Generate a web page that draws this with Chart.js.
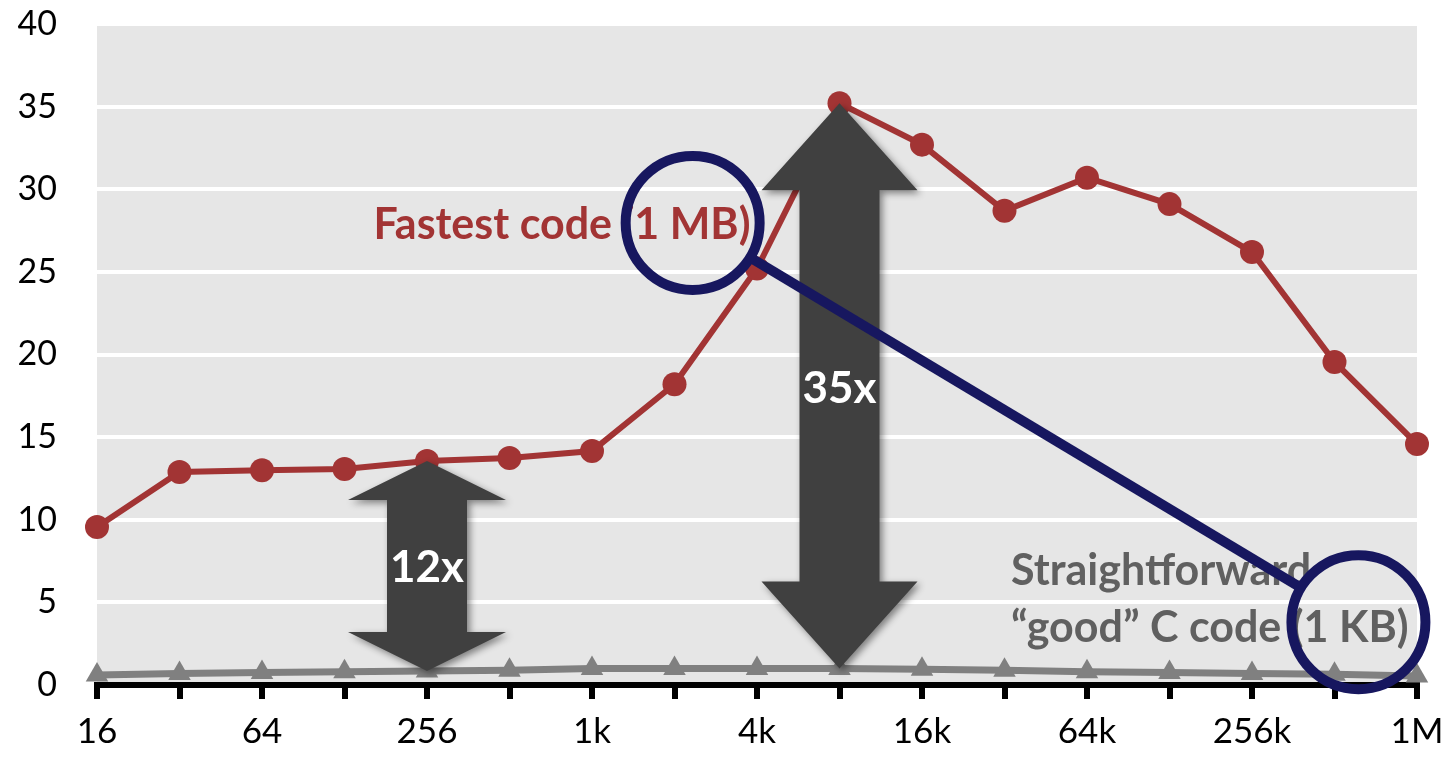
<!DOCTYPE html>
<html>
<head>
<meta charset="utf-8">
<script src="https://cdn.jsdelivr.net/npm/chart.js@4"></script>
<style>
html, body { margin: 0; padding: 0; background: #fff; }
#wrap { width: 1445px; height: 757px; }
</style>
</head>
<body>
<div id="wrap"><canvas id="speedChart"></canvas></div>
<script>
const sizes = ['16', '32', '64', '128', '256', '512', '1k', '2k', '4k', '8k', '16k', '32k', '64k', '128k', '256k', '512k', '1M'];
const fastest = [9.56, 12.89, 13.0, 13.07, 13.56, 13.74, 14.16, 18.2, 25.2, 35.2, 32.7, 28.7, 30.7, 29.1, 26.2, 19.55, 14.58];
const straightforward = [0.6, 0.7, 0.75, 0.8, 0.85, 0.9, 1.0, 1.0, 1.0, 1.0, 0.95, 0.9, 0.8, 0.75, 0.7, 0.65, 0.55];

const RED = '#a23434';
const GREY = '#808080';
const NAVY = '#17175f';

function drawArrow(ctx, x, yTop, yBot, headH, headHalf, shaftHalf) {
    ctx.beginPath();
    ctx.moveTo(x, yTop);
    ctx.lineTo(x + headHalf, yTop + headH);
    ctx.lineTo(x + shaftHalf, yTop + headH);
    ctx.lineTo(x + shaftHalf, yBot - headH);
    ctx.lineTo(x + headHalf, yBot - headH);
    ctx.lineTo(x, yBot);
    ctx.lineTo(x - headHalf, yBot - headH);
    ctx.lineTo(x - shaftHalf, yBot - headH);
    ctx.lineTo(x - shaftHalf, yTop + headH);
    ctx.lineTo(x - headHalf, yTop + headH);
    ctx.closePath();
    ctx.fill();
}

const plotBackground = {
    id: 'plotBackground',
    beforeDraw(chart) {
        const { ctx, chartArea: a } = chart;
        ctx.save();
        ctx.fillStyle = '#e6e6e6';
        ctx.fillRect(a.left, a.top, a.right - a.left, a.bottom - a.top);
        ctx.restore();
    }
};

const annotations = {
    id: 'annotations',
    afterDatasetsDraw(chart) {
        const ctx = chart.ctx;
        const xs = chart.scales.x;
        const ys = chart.scales.y;
        const px = v => xs.getPixelForValue(v);
        const py = v => ys.getPixelForValue(v);

        ctx.save();
        // labels
        ctx.font = 'bold 43px Lato';
        ctx.textBaseline = 'middle';
        ctx.textAlign = 'left';
        ctx.fillStyle = RED;
        ctx.fillText('Fastest code (1 MB)', px(3.35), py(27.8));
        ctx.fillStyle = '#606060';
        ctx.fillText('Straightforward', px(11.08), py(6.9));
        ctx.fillText('\u201Cgood\u201D C code (1 KB)', px(11.08), py(3.45));

        // double arrows
        ctx.fillStyle = '#404040';
        ctx.shadowColor = 'rgba(0,0,0,0.45)';
        ctx.shadowBlur = 7;
        ctx.shadowOffsetX = 3;
        ctx.shadowOffsetY = 3;
        drawArrow(ctx, px(4), py(fastest[4]), py(straightforward[4]), 39, 79, 40);
        drawArrow(ctx, px(9), py(fastest[9]), py(straightforward[9]), 87, 78, 40);
        ctx.shadowColor = 'transparent';

        ctx.fillStyle = '#ffffff';
        ctx.textAlign = 'center';
        ctx.font = 'bold 44px Lato';
        ctx.fillText('12x', px(4), (py(fastest[4]) + py(straightforward[4])) / 2 + 2);
        ctx.fillText('35x', px(9), py(17.9));

        // circles and connector
        const c1 = { x: px(7.22), y: py(27.96) };
        const c2 = { x: px(15.29), y: py(3.8) };
        const r = 67;
        const dx = c2.x - c1.x, dy = c2.y - c1.y;
        const len = Math.hypot(dx, dy);
        ctx.strokeStyle = NAVY;
        ctx.lineWidth = 10;
        ctx.beginPath();
        ctx.moveTo(c1.x + dx / len * r, c1.y + dy / len * r);
        ctx.lineTo(c2.x - dx / len * r, c2.y - dy / len * r);
        ctx.stroke();
        ctx.beginPath();
        ctx.arc(c1.x, c1.y, r, 0, Math.PI * 2);
        ctx.stroke();
        ctx.beginPath();
        ctx.arc(c2.x, c2.y, r, 0, Math.PI * 2);
        ctx.stroke();
        ctx.restore();
    }
};

new Chart(document.getElementById('speedChart'), {
    type: 'line',
    data: {
        labels: sizes,
        datasets: [
            {
                label: 'Straightforward "good" C code (1 KB)',
                data: straightforward,
                borderColor: GREY,
                backgroundColor: GREY,
                borderWidth: 7,
                pointStyle: 'triangle',
                pointRadius: 13,
                pointBorderWidth: 0,
                tension: 0
            },
            {
                label: 'Fastest code (1 MB)',
                data: fastest,
                borderColor: RED,
                backgroundColor: RED,
                borderWidth: 6,
                pointRadius: 12,
                pointBorderWidth: 0,
                tension: 0
            }
        ]
    },
    options: {
        responsive: true,
        maintainAspectRatio: false,
        animation: false,
        layout: { padding: { top: 24, right: 28, left: 0, bottom: 0 } },
        plugins: {
            legend: { display: false },
            tooltip: { enabled: false }
        },
        scales: {
            x: {
                offset: false,
                grid: {
                    drawOnChartArea: false,
                    color: '#000',
                    lineWidth: 6,
                    tickLength: 14
                },
                border: { display: true, color: '#000', width: 6 },
                ticks: {
                    autoSkip: false,
                    maxRotation: 0,
                    color: '#000',
                    font: { family: 'Lato', size: 35 },
                    padding: 12,
                    callback: (v, i) => (i % 2 === 0 ? sizes[i] : '')
                },
                afterFit: s => {
                    s.height = 72;
                    s.paddingLeft = 0;
                    s.paddingRight = 0;
                }
            },
            y: {
                min: 0,
                max: 40,
                grid: { color: '#ffffff', lineWidth: 4, drawTicks: false },
                border: { display: false },
                ticks: {
                    stepSize: 5,
                    color: '#000',
                    font: { family: 'Lato', size: 34 },
                    padding: 40
                },
                afterFit: s => {
                    s.width = 97;
                    s.paddingTop = 0;
                    s.paddingBottom = 0;
                }
            }
        }
    },
    plugins: [plotBackground, annotations]
});
</script>
</body>
</html>
